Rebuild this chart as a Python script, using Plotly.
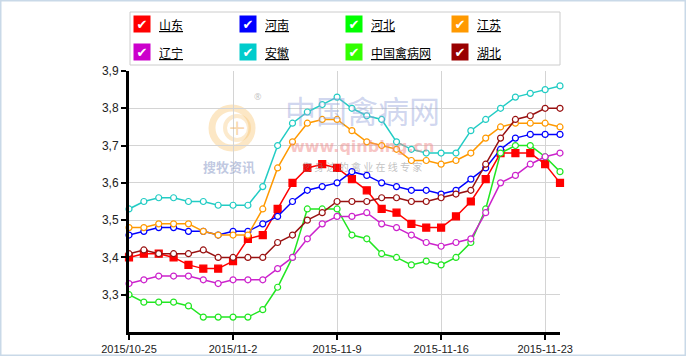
import plotly.graph_objects as go

# ---------------- data ----------------
x_index = list(range(30))
tick_positions = [0, 7, 14, 21, 28]
tick_labels = ["2015/10-25", "2015/11-2", "2015-11-9", "2015-11-16", "2015-11-23"]
y_ticks = [3.3, 3.4, 3.5, 3.6, 3.7, 3.8, 3.9]

shandong = [3.40, 3.41, 3.41, 3.40, 3.38, 3.37, 3.37, 3.39, 3.45, 3.46, 3.53, 3.60, 3.64, 3.65, 3.64,
            3.61, 3.58, 3.53, 3.52, 3.49, 3.48, 3.48, 3.51, 3.55, 3.61, 3.68, 3.68, 3.68, 3.65, 3.60]
henan = [3.46, 3.47, 3.48, 3.48, 3.47, 3.47, 3.46, 3.47, 3.47, 3.49, 3.51, 3.55, 3.58, 3.59, 3.60,
         3.63, 3.62, 3.60, 3.59, 3.58, 3.58, 3.57, 3.58, 3.61, 3.64, 3.69, 3.72, 3.73, 3.73, 3.73]
hebei = [3.30, 3.28, 3.28, 3.28, 3.27, 3.24, 3.24, 3.24, 3.24, 3.26, 3.32, 3.40, 3.53, 3.53, 3.53,
         3.46, 3.45, 3.41, 3.40, 3.38, 3.39, 3.38, 3.40, 3.44, 3.53, 3.68, 3.70, 3.70, 3.67, 3.63]
jiangsu = [3.48, 3.48, 3.49, 3.49, 3.49, 3.47, 3.46, 3.46, 3.46, 3.53, 3.64, 3.71, 3.76, 3.77, 3.77,
           3.74, 3.71, 3.70, 3.69, 3.66, 3.66, 3.65, 3.66, 3.68, 3.72, 3.75, 3.76, 3.76, 3.76, 3.75]
liaoning = [3.33, 3.34, 3.35, 3.35, 3.35, 3.34, 3.33, 3.34, 3.34, 3.34, 3.37, 3.40, 3.45, 3.49, 3.51,
            3.51, 3.52, 3.49, 3.48, 3.46, 3.44, 3.43, 3.44, 3.45, 3.52, 3.60, 3.62, 3.65, 3.67, 3.68]
anhui = [3.53, 3.55, 3.56, 3.56, 3.55, 3.55, 3.54, 3.54, 3.54, 3.59, 3.70, 3.76, 3.79, 3.81, 3.83,
         3.80, 3.78, 3.77, 3.71, 3.69, 3.68, 3.68, 3.68, 3.74, 3.77, 3.80, 3.83, 3.84, 3.85, 3.86]
qinbing = []
hubei = [3.41, 3.42, 3.41, 3.41, 3.41, 3.42, 3.40, 3.40, 3.40, 3.40, 3.44, 3.46, 3.50, 3.52, 3.55,
         3.55, 3.55, 3.56, 3.56, 3.55, 3.55, 3.56, 3.57, 3.58, 3.65, 3.72, 3.77, 3.78, 3.80, 3.80]

series_names = ["山东", "河南", "河北", "江苏", "辽宁", "安徽", "中国禽病网", "湖北"]
series_values = [shandong, henan, hebei, jiangsu, liaoning, anhui, qinbing, hubei]
series_colors = ["#FF0000", "#0000FF", "#22E622", "#FF9900", "#CC22CC", "#22CCC4", "#33FF00", "#991111"]
legend_colors = ["#FF0000", "#0000FF", "#00FF00", "#FF9900", "#CC00CC", "#00CCCC", "#33FF00", "#990000"]

# ---------------- layout geometry ----------------
W, H = 686, 356
L, R, T, B = 129, 560, 71, 332


def px(x):
    return (x - L) / (R - L)


def py(y):
    return (B - y) / (B - T)


fig = go.Figure()

for name, vals, col in zip(series_names, series_values, series_colors):
    square = name == "山东"
    fig.add_trace(go.Scatter(
        x=x_index[:len(vals)], y=vals, name=name, mode="lines+markers",
        line=dict(color=col, width=1.5),
        marker=dict(symbol="square" if square else "circle",
                    size=7 if square else 6,
                    color=col if square else "white",
                    line=dict(color=col, width=1.2)),
        cliponaxis=False, showlegend=False,
    ))

shapes = []
annotations = []

# outer frame
shapes.append(dict(type="rect", xref="paper", yref="paper",
                   x0=px(0.5), x1=px(W - 0.5), y0=py(H - 0.5), y1=py(0.5),
                   line=dict(color="#C9D9E8", width=2), fillcolor="rgba(0,0,0,0)", layer="below"))
# legend box
shapes.append(dict(type="rect", xref="paper", yref="paper",
                   x0=px(130), x1=px(560), y0=py(65), y1=py(12),
                   line=dict(color="#CCCCCC", width=1), fillcolor="white"))

for i, (name, col) in enumerate(zip(series_names, legend_colors)):
    row, c = divmod(i, 4)
    bx = 142 + c * 106
    by = 24 + row * 28
    annotations.append(dict(xref="paper", yref="paper", x=px(bx), y=py(by),
                            text="✔", showarrow=False, bgcolor=col,
                            font=dict(color="white", size=13, family="DejaVu Sans"),
                            width=16, height=16, borderpad=0,
                            xanchor="center", yanchor="middle"))
    annotations.append(dict(xref="paper", yref="paper", x=px(bx + 15), y=py(by),
                            text="<u>" + name + "</u>", showarrow=False,
                            font=dict(color="#000000", size=12, family="Noto Sans CJK SC"),
                            xanchor="left", yanchor="middle"))

# watermark
shapes.append(dict(type="circle", xref="paper", yref="paper",
                   x0=px(212), x1=px(252), y0=py(148), y1=py(108),
                   line=dict(color="rgba(245,185,90,0.35)", width=7), layer="below"))
shapes.append(dict(type="circle", xref="paper", yref="paper",
                   x0=px(225), x1=px(249), y0=py(140), y1=py(116),
                   line=dict(color="rgba(245,185,90,0.30)", width=4), layer="below"))
annotations.append(dict(xref="paper", yref="paper", x=px(237), y=py(127), text="+",
                        showarrow=False, font=dict(size=22, color="rgba(240,170,80,0.45)", family="DejaVu Sans"),
                        xanchor="center", yanchor="middle"))
annotations.append(dict(xref="paper", yref="paper", x=px(258), y=py(96), text="®",
                        showarrow=False, font=dict(size=9, color="rgba(150,150,150,0.6)"),
                        xanchor="center", yanchor="middle"))
annotations.append(dict(xref="paper", yref="paper", x=px(229), y=py(166), text="<b>搜牧资讯</b>",
                        showarrow=False, font=dict(size=13, color="rgba(140,155,200,0.55)", family="Noto Sans CJK SC"),
                        xanchor="center", yanchor="middle"))
annotations.append(dict(xref="paper", yref="paper", x=px(362), y=py(109), text="中国禽病网",
                        showarrow=False, font=dict(size=31, color="rgba(150,165,220,0.45)", family="Noto Sans CJK SC"),
                        xanchor="center", yanchor="middle"))
annotations.append(dict(xref="paper", yref="paper", x=px(362), y=py(146), text="<b>www.qinbing.cn</b>",
                        showarrow=False, font=dict(size=16, color="rgba(240,140,140,0.5)", family="DejaVu Sans"),
                        xanchor="center", yanchor="middle"))
annotations.append(dict(xref="paper", yref="paper", x=px(362), y=py(166), text="您 身 边 的 禽 业 在 线 专 家",
                        showarrow=False, font=dict(size=10, color="rgba(130,130,130,0.5)", family="Noto Sans CJK SC"),
                        xanchor="center", yanchor="middle"))

fig.update_layout(
    width=W, height=H,
    margin=dict(l=L, r=W - R, t=T, b=H - B, pad=0, autoexpand=False),
    paper_bgcolor="white", plot_bgcolor="white",
    separators=",.",
    shapes=shapes, annotations=annotations,
    showlegend=False,
    xaxis=dict(range=[0, 29], tickvals=tick_positions, ticktext=tick_labels,
               showgrid=True, gridcolor="#D4D4D4", gridwidth=1,
               showline=True, linecolor="black", linewidth=3,
               ticks="outside", ticklen=5, tickcolor="black", tickwidth=1.5,
               ticklabelstandoff=0, automargin=False,
               tickfont=dict(family="Liberation Sans", size=11, color="#222222"),
               zeroline=False, fixedrange=True),
    yaxis=dict(range=[3.2, 3.9], tickvals=y_ticks, tickformat=".1f",
               showgrid=True, gridcolor="#D4D4D4", gridwidth=1,
               showline=True, linecolor="black", linewidth=3,
               ticks="outside", ticklen=5, tickcolor="black", tickwidth=1.5,
               automargin=False,
               tickfont=dict(family="Liberation Sans", size=12, color="#222222"),
               zeroline=False, fixedrange=True),
)

fig.write_html("out.html", config={"displayModeBar": False},
               post_script="document.body.style.margin='0';document.body.style.padding='0';")
